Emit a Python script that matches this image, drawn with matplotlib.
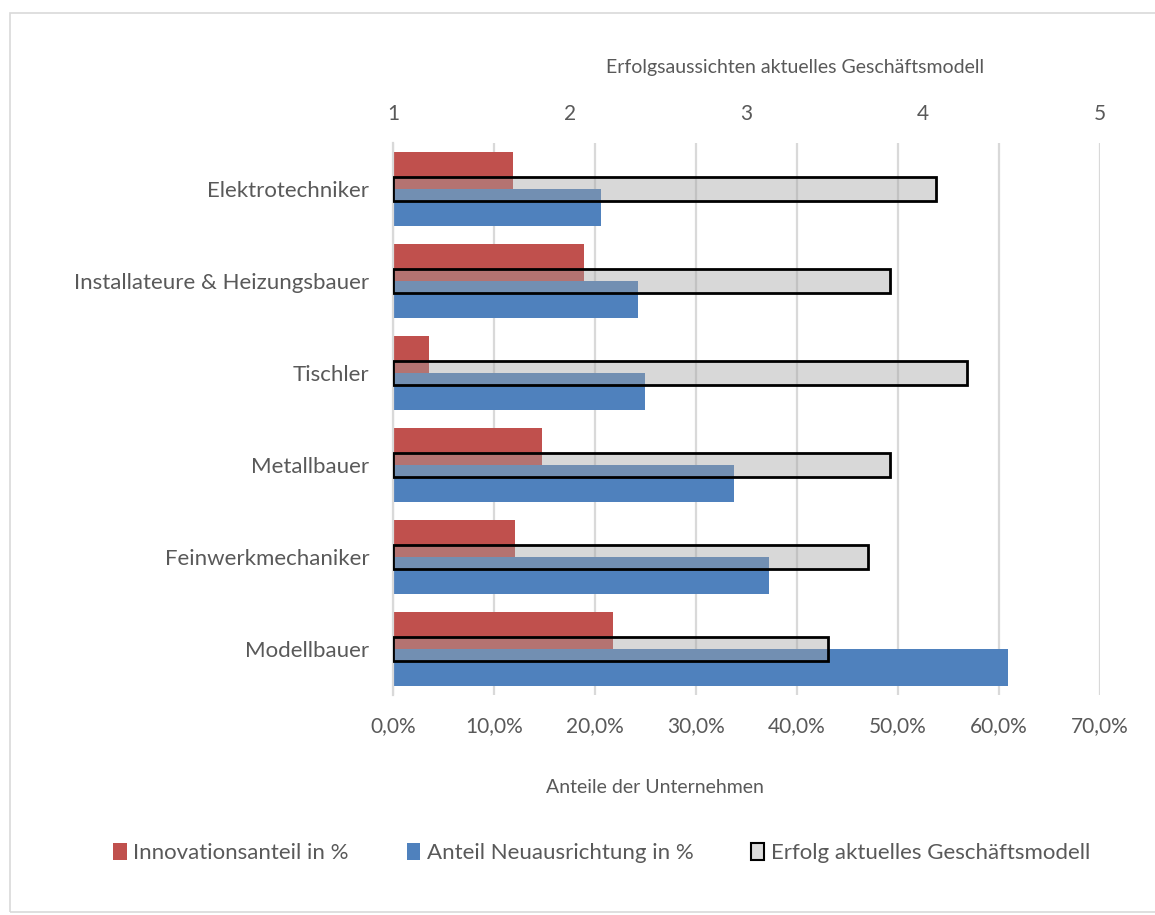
import numpy as np
import matplotlib.pyplot as plt
from matplotlib.patches import Patch, Rectangle

plt.rcParams['font.family'] = ['Lato', 'DejaVu Sans']

# data, top to bottom as in the chart
categories = ["Elektrotechniker", "Installateure & Heizungsbauer", "Tischler",
              "Metallbauer", "Feinwerkmechaniker", "Modellbauer"]
innovation = [11.9, 18.9, 3.6, 14.7, 12.1, 21.8]
neuausrichtung = [20.6, 24.3, 24.9, 33.8, 37.2, 60.9]
erfolg = [4.07, 3.81, 4.25, 3.81, 3.69, 3.46]

pct_ticks = [0, 10, 20, 30, 40, 50, 60, 70]
score_ticks = [1, 2, 3, 4, 5]

RED = "#c0504d"
BLUE = "#4f81bd"
GRAY = (0.643, 0.643, 0.643, 0.42)
TXT = "#595959"
GRID = "#d9d9d9"

fig = plt.figure(figsize=(11.55, 9.15), dpi=100)
ax = fig.add_axes([0.3403, 0.2404, 0.6121, 0.6033])

n = len(categories)
y = np.arange(n)[::-1]

ax.barh(y + 0.2, innovation, height=0.4, color=RED, zorder=2)
ax.barh(y - 0.2, neuausrichtung, height=0.4, color=BLUE, zorder=2)

ax.set_xlim(0, 70)
ax.set_ylim(-0.5, n - 0.5)
ax.set_xticks(pct_ticks)
ax.set_xticklabels([f"{t:.1f}%".replace(".", ",") for t in pct_ticks])
ax.set_yticks(y)
ax.set_yticklabels(categories)
ax.tick_params(axis="x", length=0, pad=15, labelsize=15, colors=TXT)
ax.tick_params(axis="y", length=0, pad=17, labelsize=16, colors=TXT)
ax.grid(axis="x", color=GRID, linewidth=1.6, zorder=0)
ax.set_axisbelow(True)
for s in ["top", "right", "bottom"]:
    ax.spines[s].set_visible(False)
ax.spines["left"].set_color(GRID)
ax.spines["left"].set_linewidth(1.6)
ax.set_xlabel("Anteile der Unternehmen", fontsize=14, color=TXT, va="center")
ax.xaxis.set_label_coords(0.3706, -0.1667)

# secondary axis for the business model score
ax2 = ax.twiny()
ax2.set_xlim(1, 5)
ax2.barh(y, [v - 1 for v in erfolg], left=1, height=0.27, facecolor=GRAY,
         edgecolor="black", linewidth=2, zorder=3)
ax2.set_xticks(score_ticks)
ax2.tick_params(axis="x", length=0, pad=14, labelsize=15, colors=TXT)
for s in ax2.spines.values():
    s.set_visible(False)
ax2.set_xlabel("Erfolgsaussichten aktuelles Geschäftsmodell", fontsize=14,
               color=TXT, va="center")
ax2.xaxis.set_label_coords(0.5686, 1.1359)

handles = [Patch(facecolor=RED, edgecolor="none"),
           Patch(facecolor=BLUE, edgecolor="none"),
           Patch(facecolor="#dcdcdc", edgecolor="black", linewidth=1.5)]
labels = ["Innovationsanteil in %", "Anteil Neuausrichtung in %",
          "Erfolg aktuelles Geschäftsmodell"]
leg = fig.legend(handles, labels, loc="center", bbox_to_anchor=(0.521, 0.068),
                 ncol=3, frameon=False, fontsize=16, handlelength=0.6,
                 handleheight=0.8, handletextpad=0.3, columnspacing=2.6)
for t in leg.get_texts():
    t.set_color(TXT)

# outer chart border
fig.patches.append(Rectangle((0.009, 0.003), 1.2, 0.983, transform=fig.transFigure,
                             fill=False, edgecolor="#d9d9d9", linewidth=1.2))

fig.savefig("out.png", dpi=100)
